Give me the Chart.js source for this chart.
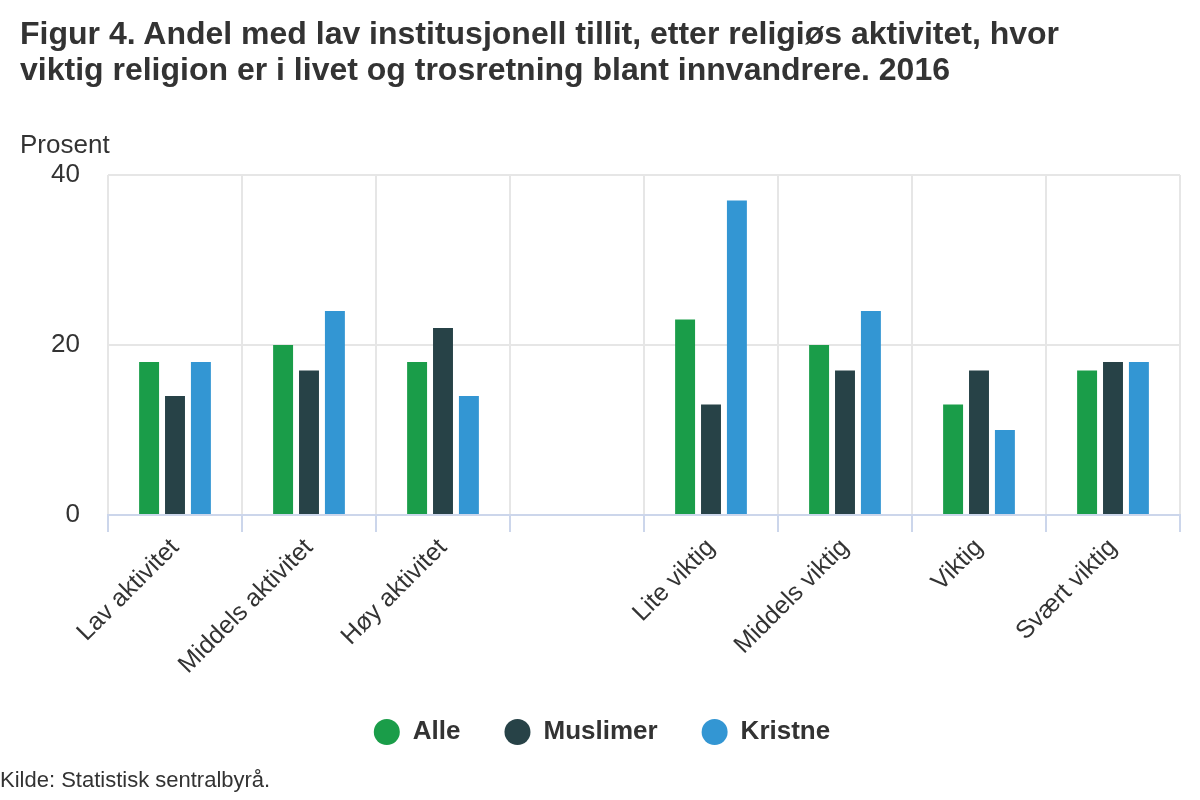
<!DOCTYPE html>
<html>
<head>
<meta charset="utf-8">
<script src="https://cdn.jsdelivr.net/npm/chart.js@4/dist/chart.umd.min.js"></script>
<style>
  html, body { margin: 0; padding: 0; background: #fff; }
  body { width: 1200px; height: 800px; position: relative; overflow: hidden; font-family: "Liberation Sans", Arial, sans-serif; color: #333; }
  #title { position: absolute; left: 20px; top: 15px; font-size: 32px; font-weight: bold; line-height: 36px; color: #333; white-space: nowrap; }
  #ylabel { position: absolute; left: 20px; top: 129px; font-size: 26px; line-height: 30px; color: #333; }
  #source { position: absolute; left: 0px; top: 767px; font-size: 22px; line-height: 26px; color: #333; }
  #wrap { position: absolute; left: 0; top: 0; width: 1200px; height: 800px; }
</style>
</head>
<body>
<div id="wrap"><canvas id="c" width="1200" height="800"></canvas></div>
<div id="title">Figur 4. Andel med lav institusjonell tillit, etter religiøs aktivitet, hvor<br>viktig religion er i livet og trosretning blant innvandrere. 2016</div>
<div id="ylabel">Prosent</div>
<div id="source">Kilde: Statistisk sentralbyrå.</div>
<script>
const categories = ["Lav aktivitet", "Middels aktivitet", "Høy aktivitet", "", "Lite viktig", "Middels viktig", "Viktig", "Svært viktig"];
const alle      = [18, 20, 18, null, 23, 20, 13, 17];
const muslimer  = [14, 17, 22, null, 13, 17, 17, 18];
const kristne   = [18, 24, 14, null, 37, 24, 10, 18];
const seriesNames = ["Alle", "Muslimer", "Kristne"];
const yTicks = [0, 20, 40];

const colors = ["#1a9d49", "#274247", "#3396d3"];
const font = "'Liberation Sans', Arial, sans-serif";

// move legend a little (position only), so x labels keep room in their own box
const shiftLegend = {
  id: 'shiftLegend',
  afterLayout(chart) {
    const l = chart.legend;
    if (!l) return;
    l.top -= 13; l.bottom -= 13;
    l.left += 12; l.right += 12;
  }
};

new Chart(document.getElementById('c'), {
  type: 'bar',
  data: {
    labels: categories,
    datasets: [alle, muslimer, kristne].map((d, i) => ({
      label: seriesNames[i],
      data: d,
      backgroundColor: colors[i],
      borderWidth: 0,
      categoryPercentage: 0.58,
      barPercentage: 0.77
    }))
  },
  plugins: [shiftLegend],
  options: {
    responsive: false,
    animation: false,
    devicePixelRatio: 1,
    layout: { padding: { top: 175, left: 0, right: 20, bottom: 32 } },
    plugins: {
      tooltip: { enabled: false },
      legend: {
        position: 'bottom',
        labels: {
          usePointStyle: true,
          pointStyle: 'circle',
          pointStyleWidth: 26,
          boxHeight: 18.4,
          padding: 44,
          color: '#333',
          font: { family: font, size: 26, weight: 'bold' }
        }
      }
    },
    scales: {
      x: {
        offset: true,
        grid: { offset: true, color: '#e6e6e6', tickColor: '#ccd6eb', tickLength: 17, lineWidth: 2 },
        border: { color: '#ccd6eb', width: 2 },
        ticks: { minRotation: 45, maxRotation: 45, padding: 1, color: '#333', font: { family: font, size: 25 } },
        afterFit: (s) => { s.height = 173; }
      },
      y: {
        min: 0, max: 40,
        afterBuildTicks: (s) => { s.ticks = yTicks.map(v => ({ value: v })); },
        grid: { color: (ctx) => ctx.tick && ctx.tick.value === 0 ? 'rgba(0,0,0,0)' : '#e6e6e6', drawTicks: false, lineWidth: 2 },
        border: { display: false },
        ticks: { padding: 28, color: '#333', font: { family: font, size: 26 } },
        afterFit: (s) => { s.width = 108; }
      }
    }
  }
});
</script>
</body>
</html>
